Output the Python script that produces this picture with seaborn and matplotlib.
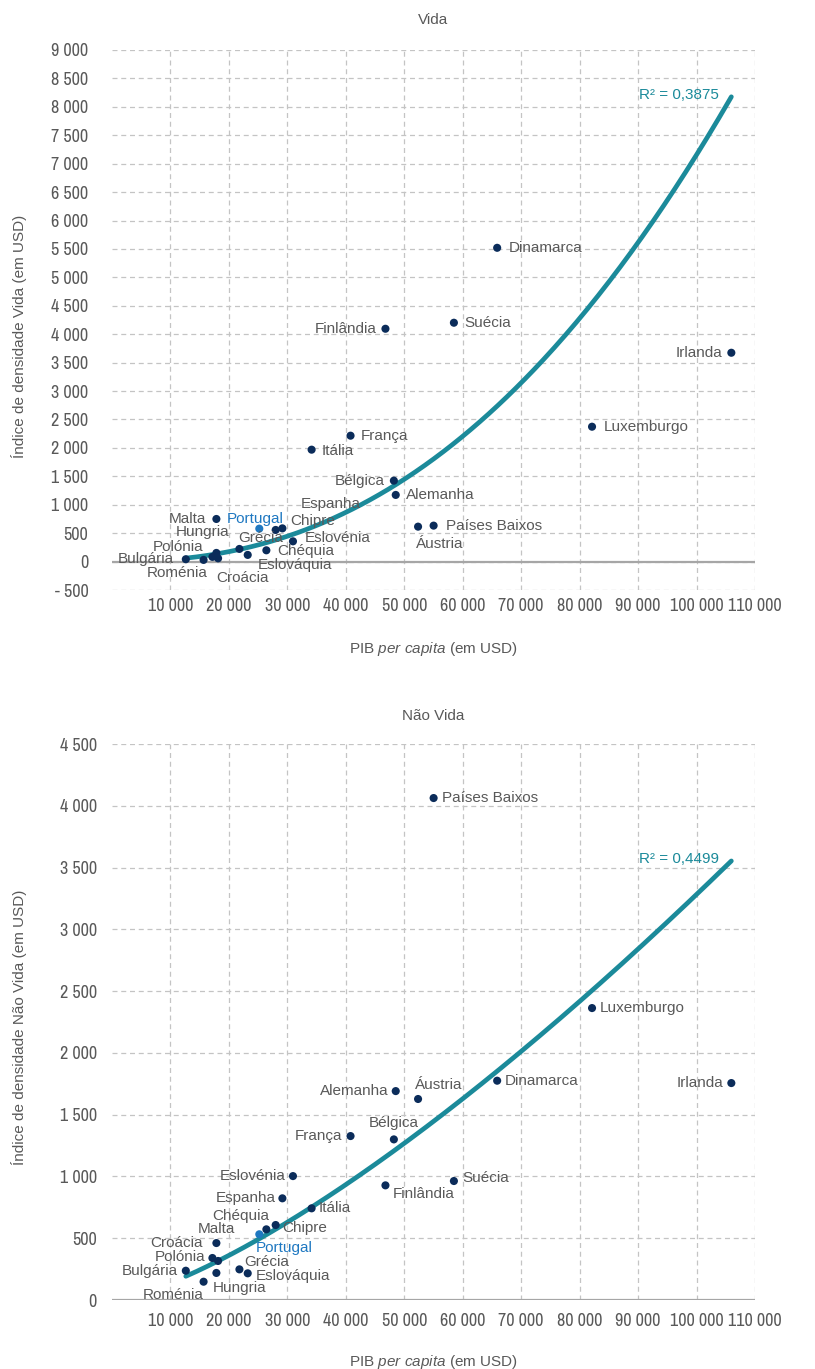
import numpy as np
import pandas as pd
import matplotlib
matplotlib.use("Agg")
import matplotlib.pyplot as plt
import seaborn as sns
from matplotlib.ticker import FuncFormatter, MultipleLocator
from matplotlib import font_manager

# ---------------- data ----------------
paises = ["Bulgária", "Roménia", "Polónia", "Hungria", "Malta", "Croácia", "Grécia",
          "Eslováquia", "Portugal", "Chéquia", "Chipre", "Espanha", "Eslovénia", "Itália",
          "França", "Finlândia", "Bélgica", "Alemanha", "Áustria", "Países Baixos",
          "Suécia", "Dinamarca", "Luxemburgo", "Irlanda"]
pib = [12630, 15670, 17180, 17860, 17860, 18150, 21800, 23220, 25200, 26410, 28000,
       29150, 30960, 34150, 40810, 46780, 48220, 48540, 52360, 55020, 58490, 65890,
       82120, 105950]
vida = [42, 30, 83, 153, 750, 58, 223, 118, 580, 199, 557, 585, 357, 1969, 2215, 4096,
        1424, 1173, 615, 633, 4202, 5520, 2373, 3674]
nao_vida = [237, 148, 340, 219, 461, 316, 248, 216, 532, 572, 607, 823, 1003, 742, 1327,
            928, 1300, 1691, 1627, 4063, 963, 1775, 2363, 1756]
r2_vida = "R² = 0,3875"
r2_nao_vida = "R² = 0,4499"
x_ticks = [10000, 20000, 30000, 40000, 50000, 60000, 70000, 80000, 90000, 100000, 110000]

# ---------------- label placement (ha, dx px, dy px) ----------------
lab_vida = {
    "Dinamarca": ("left", 12, 0), "Suécia": ("left", 10, 0), "Finlândia": ("right", -9, 0),
    "Irlanda": ("right", -9, 0), "Luxemburgo": ("left", 12, 0), "França": ("left", 10, 0),
    "Itália": ("left", 10, -1), "Bélgica": ("right", -9, 0), "Alemanha": ("left", 10, 0),
    "Países Baixos": ("left", 12, 0), "Áustria": ("left", -2, -17), "Malta": ("right", -10, 0),
    "Portugal": ("center", -4, 10), "Espanha": ("left", 18, 24), "Chipre": ("left", 15, 9),
    "Eslovénia": ("left", 12, 3), "Grécia": ("left", -1, 11), "Chéquia": ("left", 11, -1),
    "Eslováquia": ("left", 10, -10), "Hungria": ("right", 13, 21), "Polónia": ("right", -9, 10),
    "Bulgária": ("right", -12, 0), "Roménia": ("right", 4, -13), "Croácia": ("left", -2, -20),
}
lab_nao_vida = {
    "Países Baixos": ("left", 8, 0), "Luxemburgo": ("left", 8, 0), "Irlanda": ("right", -8, 0),
    "Dinamarca": ("left", 8, 0), "Áustria": ("left", -3, 14), "Alemanha": ("right", -7, 0),
    "Bélgica": ("center", 0, 16), "França": ("right", -8, 0), "Suécia": ("left", 8, 3),
    "Finlândia": ("left", 7, -9), "Itália": ("left", 7, 0), "Eslovénia": ("right", -7, 0),
    "Espanha": ("right", -7, 0), "Chéquia": ("right", 3, 13), "Chipre": ("left", 7, -3),
    "Portugal": ("left", -4, -14), "Malta": ("center", 0, 14), "Croácia": ("right", -15, 18),
    "Polónia": ("right", -7, 1), "Bulgária": ("right", -8, 0), "Roménia": ("right", 0, -13),
    "Hungria": ("left", -4, -15), "Grécia": ("left", 5, 7), "Eslováquia": ("left", 8, -3),
}

# ---------------- style ----------------
sns.set_style("white")
fonts = font_manager.fontManager.ttflist
names = {f.name for f in fonts}
BASE = "Liberation Sans" if "Liberation Sans" in names else "DejaVu Sans"
NARROW = None
for f in fonts:
    if ("Narrow" in f.name or "Condensed" in f.name) and f.style == "normal":
        NARROW = f.name
        break
if NARROW is None:
    for f in fonts:
        if str(f.stretch) in ("condensed", "semi-condensed", "extra-condensed") and f.style == "normal":
            NARROW = f.name
            break
TICK_FONT = NARROW if NARROW else BASE
TICK_SIZE = 13 if NARROW else 10

plt.rcParams["font.family"] = [BASE, "DejaVu Sans"]
plt.rcParams["mathtext.fontset"] = "custom"
plt.rcParams["mathtext.rm"] = BASE
plt.rcParams["mathtext.it"] = BASE + ":italic"

GRAY = "#595959"
NAVY = "#0b2c5a"
TEAL = "#1b8a9a"
PTBLUE = "#1f78c1"

df = pd.DataFrame({"pais": paises, "pib": pib, "vida": vida, "nao_vida": nao_vida})
df["pt"] = df["pais"] == "Portugal"

fig = plt.figure(figsize=(8.15, 13.69), dpi=100)
ax1 = fig.add_axes([0.1374, 0.5690, 0.7890, 0.3945])
ax2 = fig.add_axes([0.1374, 0.0504, 0.7890, 0.4061])


def fmt(v, _):
    s = f"{abs(v):,.0f}".replace(",", " ")
    return ("- " + s) if v < 0 else s


def draw(ax, col, labels, r2txt, ylim, title, ylabel, ytick_pad, xtick_pad, ylab_y, xlab_y, title_pad):
    ax.set_xlim(0, 110000)
    ax.set_ylim(*ylim)
    ax.xaxis.set_major_locator(MultipleLocator(10000))
    ax.yaxis.set_major_locator(MultipleLocator(500))
    ax.grid(True, ls=(0, (4, 3)), color="#c4c4c4", lw=0.9)
    ax.set_axisbelow(True)
    for s in ax.spines.values():
        s.set_visible(False)
    ax.axhline(0, color="#a6a6a6", lw=1.6, zorder=1)

    # power trend line fitted from the data
    lx, ly = np.log(df["pib"].values), np.log(df[col].values)
    b, a = np.polyfit(lx, ly, 1)
    xs = np.linspace(df["pib"].min(), df["pib"].max(), 300)
    trend = pd.DataFrame({"x": xs, "y": np.exp(a) * xs ** b})
    sns.lineplot(data=trend, x="x", y="y", color=TEAL, lw=3.4, ax=ax, zorder=2)

    sns.scatterplot(data=df, x="pib", y=col, hue="pt", palette={False: NAVY, True: PTBLUE},
                    s=34, linewidth=0, legend=False, ax=ax, zorder=3)

    for _, r in df.iterrows():
        ha, dx, dy = labels[r["pais"]]
        ax.annotate(r["pais"], (r["pib"], r[col]), xytext=(dx, dy), textcoords="offset pixels",
                    ha=ha, va="center", fontsize=11,
                    color=PTBLUE if r["pt"] else GRAY, zorder=4)

    ax.annotate(r2txt, (trend["x"].iloc[-1], trend["y"].iloc[-1]), xytext=(-12, 2),
                textcoords="offset pixels", ha="right", va="center", fontsize=11, color=TEAL)

    ax.set_xticks(x_ticks)
    ax.xaxis.set_major_formatter(FuncFormatter(fmt))
    ax.yaxis.set_major_formatter(FuncFormatter(fmt))
    ax.tick_params(axis="both", length=0, labelcolor=GRAY)
    ax.tick_params(axis="y", pad=ytick_pad)
    ax.tick_params(axis="x", pad=xtick_pad)
    for t in ax.get_xticklabels() + ax.get_yticklabels():
        t.set_fontfamily(TICK_FONT)
        t.set_fontsize(TICK_SIZE)

    ax.set_title(title, fontsize=11, color=GRAY, pad=title_pad)
    ax.set_xlabel(r"PIB $\mathit{per\ capita}$ (em USD)", fontsize=11, color=GRAY)
    ax.set_ylabel(ylabel, fontsize=11, color=GRAY)
    ax.xaxis.set_label_coords(0.5, xlab_y)
    ax.yaxis.set_label_coords(-0.132, ylab_y)


draw(ax1, "vida", lab_vida, r2_vida, (-500, 9000), "Vida",
     "Índice de densidade Vida (em USD)", 17, 6, 0.47, -0.093, 19)
draw(ax2, "nao_vida", lab_nao_vida, r2_nao_vida, (0, 4500), "Não Vida",
     "Índice de densidade Não Vida (em USD)", 11, 9, 0.49, -0.095, 17)

fig.savefig("out.png", dpi=100)
